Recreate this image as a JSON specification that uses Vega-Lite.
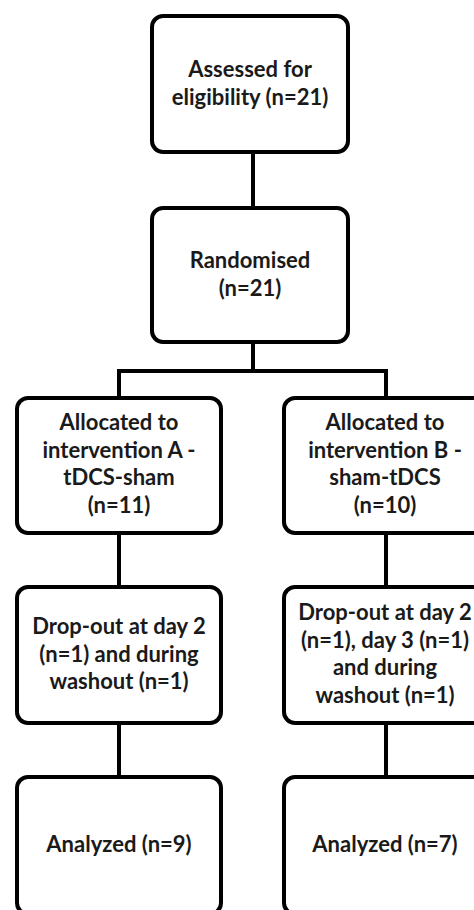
{
  "$schema": "https://vega.github.io/schema/vega-lite/v6.json",
  "width": 474,
  "height": 910,
  "autosize": "none",
  "padding": 0,
  "background": "white",
  "config": {"view": {"stroke": null}},
  "datasets": {
    "links": [
      {"x": 253, "y": 152, "x2": 253, "y2": 208},
      {"x": 253, "y": 342, "x2": 253, "y2": 371},
      {"x": 119, "y": 371, "x2": 386, "y2": 371},
      {"x": 119, "y": 371, "x2": 119, "y2": 398},
      {"x": 386, "y": 371, "x2": 386, "y2": 398},
      {"x": 119, "y": 533, "x2": 119, "y2": 587},
      {"x": 386, "y": 533, "x2": 386, "y2": 587},
      {"x": 119, "y": 723, "x2": 119, "y2": 777},
      {"x": 386, "y": 723, "x2": 386, "y2": 777}
    ],
    "boxes": [
      {"step": "Assessed", "x": 152, "x2": 348, "y": 16, "y2": 152, "cx": 250, "cy": 70, "label": "Assessed for\neligibility (n=21)"},
      {"step": "Randomised", "x": 152, "x2": 348, "y": 208, "y2": 342, "cx": 250, "cy": 261, "label": "Randomised\n(n=21)"},
      {"step": "Allocated A", "x": 17, "x2": 221, "y": 398, "y2": 533, "cx": 119, "cy": 423, "label": "Allocated to\nintervention A -\ntDCS-sham\n(n=11)"},
      {"step": "Allocated B", "x": 284, "x2": 488, "y": 398, "y2": 533, "cx": 385, "cy": 423, "label": "Allocated to\nintervention B -\nsham-tDCS\n(n=10)"},
      {"step": "Drop-out A", "x": 17, "x2": 221, "y": 587, "y2": 723, "cx": 119, "cy": 627, "label": "Drop-out at day 2\n(n=1) and during\nwashout (n=1)"},
      {"step": "Drop-out B", "x": 284, "x2": 488, "y": 587, "y2": 723, "cx": 385, "cy": 613, "label": "Drop-out at day 2\n(n=1), day 3 (n=1)\nand during\nwashout (n=1)"},
      {"step": "Analyzed A", "x": 17, "x2": 221, "y": 777, "y2": 914, "cx": 119, "cy": 845, "label": "Analyzed (n=9)"},
      {"step": "Analyzed B", "x": 284, "x2": 488, "y": 777, "y2": 914, "cx": 385, "cy": 845, "label": "Analyzed (n=7)"}
    ]
  },
  "layer": [
    {
      "data": {"name": "links"},
      "mark": {"type": "rule", "stroke": "black", "strokeWidth": 4, "strokeCap": "square"},
      "encoding": {
        "x": {"field": "x", "type": "quantitative", "scale": {"domain": [0, 474], "nice": false, "zero": false}, "axis": null},
        "y": {"field": "y", "type": "quantitative", "scale": {"domain": [0, 910], "nice": false, "zero": false, "reverse": true}, "axis": null},
        "x2": {"field": "x2"},
        "y2": {"field": "y2"}
      }
    },
    {
      "data": {"name": "boxes"},
      "mark": {"type": "rect", "fill": "white", "stroke": "black", "strokeWidth": 4, "cornerRadius": 11},
      "encoding": {
        "x": {"field": "x", "type": "quantitative"},
        "x2": {"field": "x2"},
        "y": {"field": "y", "type": "quantitative"},
        "y2": {"field": "y2"}
      }
    },
    {
      "data": {"name": "boxes"},
      "mark": {"type": "text", "font": "Lato", "fontWeight": "bold", "fontSize": 22, "lineHeight": 27.5, "lineBreak": "\n", "align": "center", "baseline": "middle", "color": "#1a1a1a"},
      "encoding": {
        "x": {"field": "cx", "type": "quantitative"},
        "y": {"field": "cy", "type": "quantitative"},
        "text": {"field": "label"}
      }
    }
  ]
}
